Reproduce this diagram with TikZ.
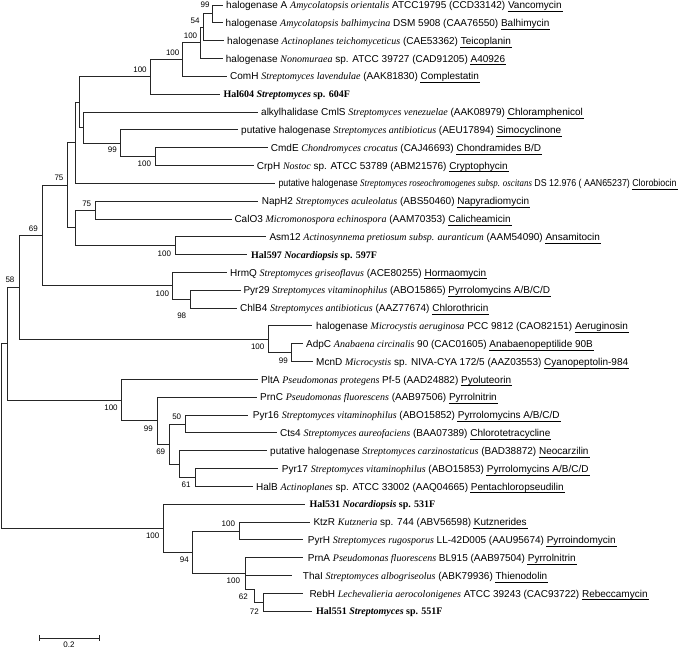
\documentclass[tikz,border=0pt]{standalone}
\usepackage{graphicx}
\usepackage{fontspec}
\setmainfont{Liberation Sans}
\newfontfamily\tnr{Liberation Serif}
\newcommand\spc[1]{{\tnr\itshape #1}}
\newcommand\halb[1]{{\tnr\bfseries #1}}
\newcommand\cmpd[1]{\setbox0=\hbox{#1}\rlap{\hskip-0.5pt\rule[-3.3pt]{\dimexpr\wd0+1.5pt\relax}{0.9pt}}\box0}
\begin{document}
\begin{tikzpicture}[x=1pt,y=-1pt,
  br/.style={line width=0.9pt, draw=black!85},
  tip/.style={anchor=base west, inner sep=0pt, yshift=-3.6pt, font=\fontsize{10}{12}\selectfont},
  bs/.style={inner sep=0pt, font=\fontsize{8}{9}\selectfont}]
\useasboundingbox (0,0) rectangle (685,649);
% tip ends
\coordinate (e1) at (223,5.00);
\coordinate (e2) at (223,22.83);
\coordinate (e3) at (224,40.66);
\coordinate (e4) at (223,58.49);
\coordinate (e5) at (226.7,76.32);
\coordinate (e6) at (220,94.15);
\coordinate (e7) at (258.3,111.98);
\coordinate (e8) at (238.3,129.81);
\coordinate (e9) at (268.3,147.64);
\coordinate (e10) at (254,165.47);
\coordinate (e11) at (275,183.30);
\coordinate (e12) at (258.3,201.13);
\coordinate (e13) at (231.7,218.96);
\coordinate (e14) at (266,236.79);
\coordinate (e15) at (246.7,254.62);
\coordinate (e16) at (227.3,272.45);
\coordinate (e17) at (241,290.28);
\coordinate (e18) at (237.3,308.11);
\coordinate (e19) at (311.7,325.94);
\coordinate (e20) at (303.3,343.77);
\coordinate (e21) at (313.3,361.60);
\coordinate (e22) at (258.3,379.43);
\coordinate (e23) at (256.7,397.26);
\coordinate (e24) at (248.3,415.09);
\coordinate (e25) at (276.7,432.92);
\coordinate (e26) at (266.7,450.75);
\coordinate (e27) at (278.3,468.58);
\coordinate (e28) at (252.7,486.41);
\coordinate (e29) at (305,504.24);
\coordinate (e30) at (310,522.07);
\coordinate (e31) at (303.3,539.90);
\coordinate (e32) at (303.3,557.73);
\coordinate (e33) at (291.7,575.56);
\coordinate (e34) at (303.3,593.39);
\coordinate (e35) at (311.7,611.22);
% internal nodes
\coordinate (n99a) at (212.3,13.92);
\coordinate (n54) at (203.3,27.29);
\coordinate (n100a) at (200.7,42.89);
\coordinate (n100b) at (182.7,59.6);
\coordinate (n100c) at (150.7,76.88);
\coordinate (n100d) at (155,156.56);
\coordinate (n99b) at (120.7,143.18);
\coordinate (nB) at (83.3,127.58);
\coordinate (nA) at (79.3,102.23);
\coordinate (nC) at (75.7,142.77);
\coordinate (n75b) at (95,210.05);
\coordinate (n100e) at (175,245.7);
\coordinate (nE) at (75.7,227.88);
\coordinate (nD) at (67.7,185.32);
\coordinate (n98) at (190,299.2);
\coordinate (nH) at (172.7,285.83);
\coordinate (nF) at (42.7,235.57);
\coordinate (n99c) at (291.7,352.69);
\coordinate (n100f) at (268.3,339.31);
\coordinate (nG) at (19,287.44);
\coordinate (n50) at (185,424.0);
\coordinate (nP) at (195,477.5);
\coordinate (nO) at (179.3,464.12);
\coordinate (nM) at (169.3,444.06);
\coordinate (nL) at (157.3,420.66);
\coordinate (nJ) at (121.7,400.04);
\coordinate (nI) at (7.3,343.74);
\coordinate (nR) at (239.3,530.99);
\coordinate (nU) at (263.3,602.3);
\coordinate (nT) at (254,589);
\coordinate (nS) at (245,573.4);
\coordinate (nQ) at (192.7,552.2);
\coordinate (nK) at (163.3,528.22);
\coordinate (root) at (1.5,435.98);
% branches
\draw[br] (n99a) |- (e1); \draw[br] (n99a) |- (e2);
\draw[br] (n54) |- (n99a); \draw[br] (n54) |- (e3);
\draw[br] (n100a) |- (n54); \draw[br] (n100a) |- (e4);
\draw[br] (n100b) |- (n100a); \draw[br] (n100b) |- (e5);
\draw[br] (n100c) |- (n100b); \draw[br] (n100c) |- (e6);
\draw[br] (n100d) |- (e9); \draw[br] (n100d) |- (e10);
\draw[br] (n99b) |- (e8); \draw[br] (n99b) |- (n100d);
\draw[br] (nB) |- (e7); \draw[br] (nB) |- (n99b);
\draw[br] (nA) |- (n100c); \draw[br] (nA) |- (nB);
\draw[br] (nC) |- (nA); \draw[br] (nC) |- (e11);
\draw[br] (n75b) |- (e12); \draw[br] (n75b) |- (e13);
\draw[br] (n100e) |- (e14); \draw[br] (n100e) |- (e15);
\draw[br] (nE) |- (n75b); \draw[br] (nE) |- (n100e);
\draw[br] (nD) |- (nC); \draw[br] (nD) |- (nE);
\draw[br] (n98) |- (e17); \draw[br] (n98) |- (e18);
\draw[br] (nH) |- (e16); \draw[br] (nH) |- (n98);
\draw[br] (nF) |- (nD); \draw[br] (nF) |- (nH);
\draw[br] (n99c) |- (e20); \draw[br] (n99c) |- (e21);
\draw[br] (n100f) |- (e19); \draw[br] (n100f) |- (n99c);
\draw[br] (nG) |- (nF); \draw[br] (nG) |- (n100f);
\draw[br] (n50) |- (e24); \draw[br] (n50) |- (e25);
\draw[br] (nP) |- (e27); \draw[br] (nP) |- (e28);
\draw[br] (nO) |- (e26); \draw[br] (nO) |- (nP);
\draw[br] (nM) |- (n50); \draw[br] (nM) |- (nO);
\draw[br] (nL) |- (e23); \draw[br] (nL) |- (nM);
\draw[br] (nJ) |- (e22); \draw[br] (nJ) |- (nL);
\draw[br] (nI) |- (nG); \draw[br] (nI) |- (nJ);
\draw[br] (nR) |- (e30); \draw[br] (nR) |- (e31);
\draw[br] (nU) |- (e34); \draw[br] (nU) |- (e35);
\draw[br] (nT) |- (nU);
\draw[br] (nS) |- (e32); \draw[br] (nS) |- (e33); \draw[br] (nS) |- (nT);
\draw[br] (nQ) |- (nR); \draw[br] (nQ) |- (nS);
\draw[br] (nK) |- (e29); \draw[br] (nK) |- (nQ);
\draw[br] (root) |- (nI); \draw[br] (root) |- (nK);
% tip labels
\node[tip] (t1) at (226,5.00) {halogenase A \spc{Amycolatopsis orientalis} ATCC19795 (CCD33142) \cmpd{Vancomycin}};
\node[tip] (t2) at (225.5,22.83) {halogenase \spc{Amycolatopsis balhimycina} DSM 5908 (CAA76550) \cmpd{Balhimycin}};
\node[tip] (t3) at (227,40.66) {halogenase \spc{Actinoplanes teichomyceticus} (CAE53362) \cmpd{Teicoplanin}};
\node[tip] (t4) at (225.7,58.49) {halogenase \spc{Nonomuraea} sp. ATCC 39727 (CAD91205) \cmpd{A40926}};
\node[tip] (t5) at (230,76.32) {ComH \spc{Streptomyces lavendulae} (AAK81830) \cmpd{Complestatin}};
\node[tip] (t6) at (223.3,94.15) {\halb{Hal604 \textit{Streptomyces} sp. 604F}};
\node[tip] (t7) at (261,111.98) {alkylhalidase CmlS \spc{Streptomyces venezuelae} (AAK08979) \cmpd{Chloramphenicol}};
\node[tip] (t8) at (241,129.81) {putative halogenase \spc{Streptomyces antibioticus} (AEU17894) \cmpd{Simocyclinone}};
\node[tip] (t9) at (270.7,147.64) {CmdE \spc{Chondromyces crocatus} (CAJ46693) \cmpd{Chondramides B/D}};
\node[tip] (t10) at (256.7,165.47) {CrpH \spc{Nostoc} sp. ATCC 53789 (ABM21576) \cmpd{Cryptophycin}};
\node[tip] (t11) at (278.3,183.30) {\scalebox{0.885}[1]{putative halogenase \spc{Streptomyces roseochromogenes subsp. oscitans} DS 12.976 ( AAN65237) \cmpd{Clorobiocin}}};
\node[tip] (t12) at (261.7,201.13) {NapH2 \spc{Streptomyces aculeolatus} (ABS50460) \cmpd{Napyradiomycin}};
\node[tip] (t13) at (234.3,218.96) {CalO3 \spc{Micromonospora echinospora} (AAM70353) \cmpd{Calicheamicin}};
\node[tip] (t14) at (269.3,236.79) {Asm12 \spc{Actinosynnema pretiosum subsp. auranticum} (AAM54090) \cmpd{Ansamitocin}};
\node[tip] (t15) at (251,254.62) {\halb{Hal597 \textit{Nocardiopsis} sp. 597F}};
\node[tip] (t16) at (230,272.45) {HrmQ \spc{Streptomyces griseoflavus} (ACE80255) \cmpd{Hormaomycin}};
\node[tip] (t17) at (243.3,290.28) {Pyr29 \spc{Streptomyces vitaminophilus} (ABO15865) \cmpd{Pyrrolomycins A/B/C/D}};
\node[tip] (t18) at (240,308.11) {ChlB4 \spc{Streptomyces antibioticus} (AAZ77674) \cmpd{Chlorothricin}};
\node[tip] (t19) at (316,325.94) {halogenase \spc{Microcystis aeruginosa} PCC 9812 (CAO82151) \cmpd{Aeruginosin}};
\node[tip] (t20) at (306,343.77) {AdpC \spc{Anabaena circinalis} 90 (CAC01605) \cmpd{Anabaenopeptilide 90B}};
\node[tip] (t21) at (316,361.60) {McnD \spc{Microcystis} sp. NIVA-CYA 172/5 (AAZ03553) \cmpd{Cyanopeptolin-984}};
\node[tip] (t22) at (261,379.43) {PltA \spc{Pseudomonas protegens} Pf-5 (AAD24882) \cmpd{Pyoluteorin}};
\node[tip] (t23) at (260,397.26) {PrnC \spc{Pseudomonas fluorescens} (AAB97506) \cmpd{Pyrrolnitrin}};
\node[tip] (t24) at (252.7,415.09) {Pyr16 \spc{Streptomyces vitaminophilus} (ABO15852) \cmpd{Pyrrolomycins A/B/C/D}};
\node[tip] (t25) at (280,432.92) {Cts4 \spc{Streptomyces aureofaciens} (BAA07389) \cmpd{Chlorotetracycline}};
\node[tip] (t26) at (270,450.75) {putative halogenase \spc{Streptomyces carzinostaticus} (BAD38872) \cmpd{Neocarzilin}};
\node[tip] (t27) at (281.7,468.58) {Pyr17 \spc{Streptomyces vitaminophilus} (ABO15853) \cmpd{Pyrrolomycins A/B/C/D}};
\node[tip] (t28) at (256,486.41) {HalB \spc{Actinoplanes} sp. ATCC 33002 (AAQ04665) \cmpd{Pentachloropseudilin}};
\node[tip] (t29) at (309.3,504.24) {\halb{Hal531 \textit{Nocardiopsis} sp. 531F}};
\node[tip] (t30) at (313.3,522.07) {KtzR \spc{Kutzneria} sp. 744 (ABV56598) \cmpd{Kutznerides}};
\node[tip] (t31) at (307.7,539.90) {PyrH \spc{Streptomyces rugosporus} LL-42D005 (AAU95674) \cmpd{Pyrroindomycin}};
\node[tip] (t32) at (307.7,557.73) {PrnA \spc{Pseudomonas fluorescens} BL915 (AAB97504) \cmpd{Pyrrolnitrin}};
\node[tip] (t33) at (302.7,575.56) {ThaI \spc{Streptomyces albogriseolus} (ABK79936) \cmpd{Thienodolin}};
\node[tip] (t34) at (309.3,593.39) {RebH \spc{Lechevalieria aerocolonigenes} ATCC 39243 (CAC93722) \cmpd{Rebeccamycin}};
\node[tip] (t35) at (316,611.22) {\halb{Hal551 \textit{Streptomyces} sp. 551F}};
% bootstrap values
\node[bs] (b1) at (205,5) {99};
\node[bs] (b2) at (195,20.5) {54};
\node[bs] (b3) at (190.5,36) {100};
\node[bs] (b4) at (172.7,52.3) {100};
\node[bs] (b5) at (140,69.3) {100};
\node[bs] (b6) at (112.3,150) {99};
\node[bs] (b7) at (144.3,164) {100};
\node[bs] (b8) at (59,177.7) {75};
\node[bs] (b9) at (86.7,203.3) {75};
\node[bs] (b10) at (33.3,228.3) {69};
\node[bs] (b11) at (164.3,253.3) {100};
\node[bs] (b12) at (162.3,293.3) {100};
\node[bs] (b13) at (181.7,316) {98};
\node[bs] (b14) at (10,280) {58};
\node[bs] (b15) at (257.7,346.7) {100};
\node[bs] (b16) at (283.3,360.7) {99};
\node[bs] (b17) at (111,407.7) {100};
\node[bs] (b18) at (148.3,428.3) {99};
\node[bs] (b19) at (176.7,416.7) {50};
\node[bs] (b20) at (160.7,451.7) {69};
\node[bs] (b21) at (186,485) {61};
\node[bs] (b22) at (152.7,536) {100};
\node[bs] (b23) at (184.3,559.3) {94};
\node[bs] (b24) at (228.3,524) {100};
\node[bs] (b25) at (233.3,581) {100};
\node[bs] (b26) at (243.3,596.7) {62};
\node[bs] (b27) at (254.3,611.5) {72};
% scale bar
\coordinate (s1) at (39.3,638.3);
\coordinate (s2) at (99,638.3);
\draw[br] (s1) -- (s2);
\draw[br] ([yshift=3pt]s1) -- ([yshift=-3pt]s1);
\draw[br] ([yshift=3pt]s2) -- ([yshift=-3pt]s2);
\node[bs] (sl) at (69,645) {0.2};
\end{tikzpicture}
\end{document}
